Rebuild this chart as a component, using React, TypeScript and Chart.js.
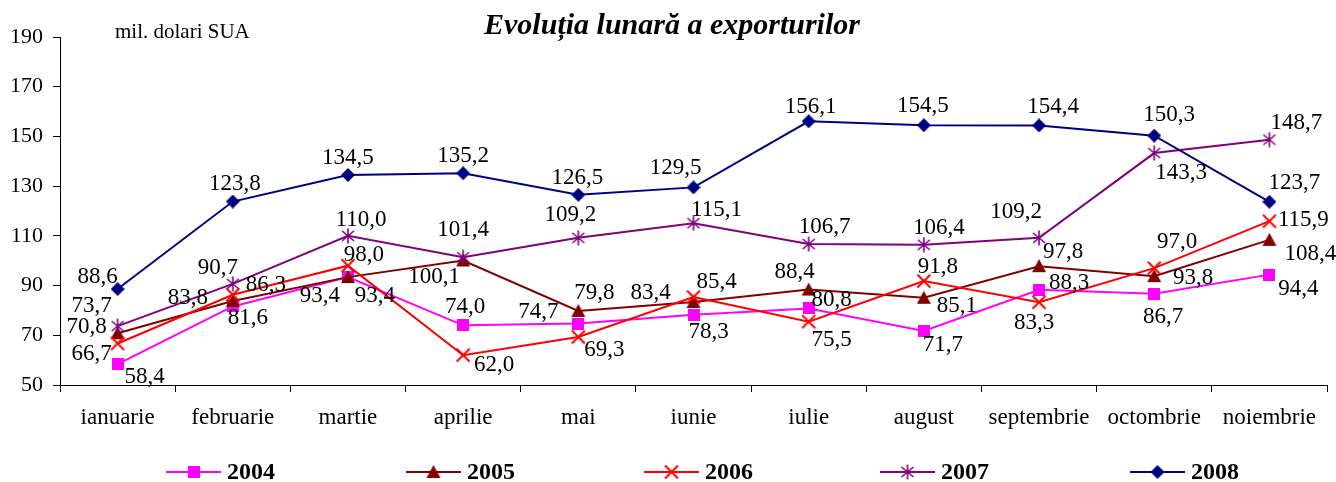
import React, { useEffect, useRef } from 'react';
import { Chart, registerables } from 'chart.js';

Chart.register(...registerables);

// ---------- data ----------
const months = [
  'ianuarie', 'februarie', 'martie', 'aprilie', 'mai', 'iunie',
  'iulie', 'august', 'septembrie', 'octombrie', 'noiembrie',
];
const years = ['2004', '2005', '2006', '2007', '2008'];

const exp2004 = [58.4, 81.6, 93.4, 74.0, 74.7, 78.3, 80.8, 71.7, 88.3, 86.7, 94.4];
const exp2005 = [70.8, 83.8, 93.4, 100.1, 79.8, 83.4, 88.4, 85.1, 97.8, 93.8, 108.4];
const exp2006 = [66.7, 86.3, 98.0, 62.0, 69.3, 85.4, 75.5, 91.8, 83.3, 97.0, 115.9];
const exp2007 = [73.7, 90.7, 110.0, 101.4, 109.2, 115.1, 106.7, 106.4, 109.2, 143.3, 148.7];
const exp2008 = [88.6, 123.8, 134.5, 135.2, 126.5, 129.5, 156.1, 154.5, 154.4, 150.3, 123.7];

const yMin = 50;
const yMax = 190;
const yStep = 20;

const titleText = 'Evoluția lunară a exporturilor';
const unitText = 'mil. dolari SUA';

// ---------- label placement (pixel offsets of each value label from its point) ----------
const lbl2004: [number, number][] = [
  [27, 13], [15, 12], [27, 19], [2, -18], [-40, -12], [15, 17],
  [23, -8], [19, 14], [30, -7], [9, 23], [29, 14],
];
const lbl2005: [number, number][] = [
  [-31, -6], [-45, -3], [-28, 19], [-29, 16], [16, -18], [-43, -9],
  [-14, -18], [33, 8], [24, -14], [39, 2], [41, 14],
];
const lbl2006: [number, number][] = [
  [-26, 10], [33, -10], [16, -11], [31, 10], [26, 13], [23, -15],
  [23, 18], [14, -14], [-5, 21], [23, -26], [34, -1],
];
const lbl2007: [number, number][] = [
  [-26, -20], [-15, -16], [13, -16], [0, -27], [-8, -23], [23, -13],
  [16, -17], [15, -17], [-23, -26], [27, 20], [27, -17],
];
const lbl2008: [number, number][] = [
  [-20, -12], [2, -18], [0, -17], [0, -17], [-1, -17], [-18, -19],
  [2, -14], [-1, -19], [14, -19], [15, -21], [25, -19],
];

// ---------- styles ----------
const SERIF = '"Liberation Serif", "Times New Roman", "DejaVu Serif", serif';
const colors = ['#FF00FF', '#800000', '#FF0000', '#800080', '#000080'];

function makeMarker(kind: string, color: string): HTMLCanvasElement {
  const c = document.createElement('canvas');
  const s = kind === 'square' ? 12 : kind === 'diamond' ? 14 : 16;
  c.width = s;
  c.height = s;
  const ctx = c.getContext('2d')!;
  ctx.fillStyle = color;
  ctx.strokeStyle = color;
  if (kind === 'square') {
    ctx.fillRect(0, 0, s, s);
  } else if (kind === 'triangle') {
    ctx.beginPath();
    ctx.moveTo(s / 2, 1);
    ctx.lineTo(s - 1, s - 2);
    ctx.lineTo(1, s - 2);
    ctx.closePath();
    ctx.fill();
  } else if (kind === 'x') {
    ctx.lineWidth = 2;
    ctx.beginPath();
    ctx.moveTo(1.5, 1.5);
    ctx.lineTo(s - 1.5, s - 1.5);
    ctx.moveTo(s - 1.5, 1.5);
    ctx.lineTo(1.5, s - 1.5);
    ctx.stroke();
  } else if (kind === 'star') {
    ctx.lineWidth = 1.6;
    ctx.beginPath();
    ctx.moveTo(s / 2, 0.5);
    ctx.lineTo(s / 2, s - 0.5);
    ctx.moveTo(2, 3);
    ctx.lineTo(s - 2, s - 3);
    ctx.moveTo(s - 2, 3);
    ctx.lineTo(2, s - 3);
    ctx.stroke();
  } else if (kind === 'diamond') {
    ctx.beginPath();
    ctx.moveTo(s / 2, 0);
    ctx.lineTo(s, s / 2);
    ctx.lineTo(s / 2, s);
    ctx.lineTo(0, s / 2);
    ctx.closePath();
    ctx.fill();
  }
  return c;
}

const fmt = (v: number) => v.toFixed(1).replace('.', ',');

export default function App() {
  const ref = useRef<HTMLCanvasElement | null>(null);

  useEffect(() => {
    if (!ref.current) return;
    const markerKinds = ['square', 'triangle', 'x', 'star', 'diamond'];
    const markers = markerKinds.map((k, i) => makeMarker(k, colors[i]));
    const series = [exp2004, exp2005, exp2006, exp2007, exp2008];
    const offsets = [lbl2004, lbl2005, lbl2006, lbl2007, lbl2008];

    const decorPlugin = {
      id: 'decor',
      afterDatasetsDraw(chart: any) {
        const ctx = chart.ctx as CanvasRenderingContext2D;
        ctx.save();
        // value labels
        ctx.fillStyle = '#000';
        ctx.font = `23px ${SERIF}`;
        ctx.textAlign = 'center';
        ctx.textBaseline = 'middle';
        chart.data.datasets.forEach((ds: any, di: number) => {
          const meta = chart.getDatasetMeta(di);
          meta.data.forEach((pt: any, i: number) => {
            const off = offsets[di][i];
            ctx.fillText(fmt(ds.data[i]), pt.x + off[0], pt.y + off[1]);
          });
        });
        // title
        ctx.font = `italic bold 30px ${SERIF}`;
        ctx.textAlign = 'center';
        ctx.fillText(titleText, 672, 26);
        // unit
        ctx.font = `21px ${SERIF}`;
        ctx.textAlign = 'left';
        ctx.fillText(unitText, 115, 32);
        // legend
        const legendY = 472;
        const lineStarts = [166, 406, 644, 880, 1130];
        ctx.font = `bold 24px ${SERIF}`;
        ctx.textAlign = 'left';
        years.forEach((y, i) => {
          const x0 = lineStarts[i];
          ctx.strokeStyle = colors[i];
          ctx.lineWidth = 2;
          ctx.beginPath();
          ctx.moveTo(x0, legendY);
          ctx.lineTo(x0 + 55, legendY);
          ctx.stroke();
          const m = markers[i];
          ctx.drawImage(m, x0 + 27.5 - m.width / 2, legendY - m.height / 2);
          ctx.fillStyle = '#000';
          ctx.fillText(y, x0 + 61, legendY + 1);
        });
        ctx.restore();
      },
    };

    const chart = new Chart(ref.current, {
      type: 'line',
      data: {
        labels: months,
        datasets: series.map((d, i) => ({
          label: years[i],
          data: d,
          borderColor: colors[i],
          backgroundColor: colors[i],
          borderWidth: 2,
          tension: 0,
          fill: false,
          pointStyle: markers[i] as any,
          pointRadius: 7,
          pointHoverRadius: 7,
          order: 4 - i,
        })),
      },
      options: {
        animation: false,
        responsive: true,
        maintainAspectRatio: false,
        layout: { padding: { top: 37, right: 9, left: 0, bottom: 0 } },
        plugins: {
          legend: { display: false },
          title: { display: false },
          tooltip: { enabled: false },
        },
        scales: {
          x: {
            type: 'category',
            offset: true,
            grid: {
              offset: true,
              drawOnChartArea: false,
              drawTicks: true,
              tickLength: 7,
              color: '#000',
            },
            border: { display: true, color: '#000', width: 1 },
            ticks: {
              color: '#000',
              font: { family: SERIF, size: 23 },
              padding: 12,
              maxRotation: 0,
              autoSkip: false,
            },
            afterFit(scale: any) {
              scale.height = 97;
            },
          },
          y: {
            min: yMin,
            max: yMax,
            grid: {
              drawOnChartArea: false,
              drawTicks: true,
              tickLength: 7,
              color: '#000',
            },
            border: { display: true, color: '#000', width: 1 },
            ticks: {
              stepSize: yStep,
              color: '#000',
              font: { family: SERIF, size: 22 },
              padding: 10,
            },
            afterFit(scale: any) {
              scale.width = 60;
            },
          },
        },
      },
      plugins: [decorPlugin],
    });
    return () => chart.destroy();
  }, []);

  return (
    <div style={{ position: 'absolute', left: 0, top: 0, width: 1336, height: 482, background: '#fff' }}>
      <canvas ref={ref} />
    </div>
  );
}
